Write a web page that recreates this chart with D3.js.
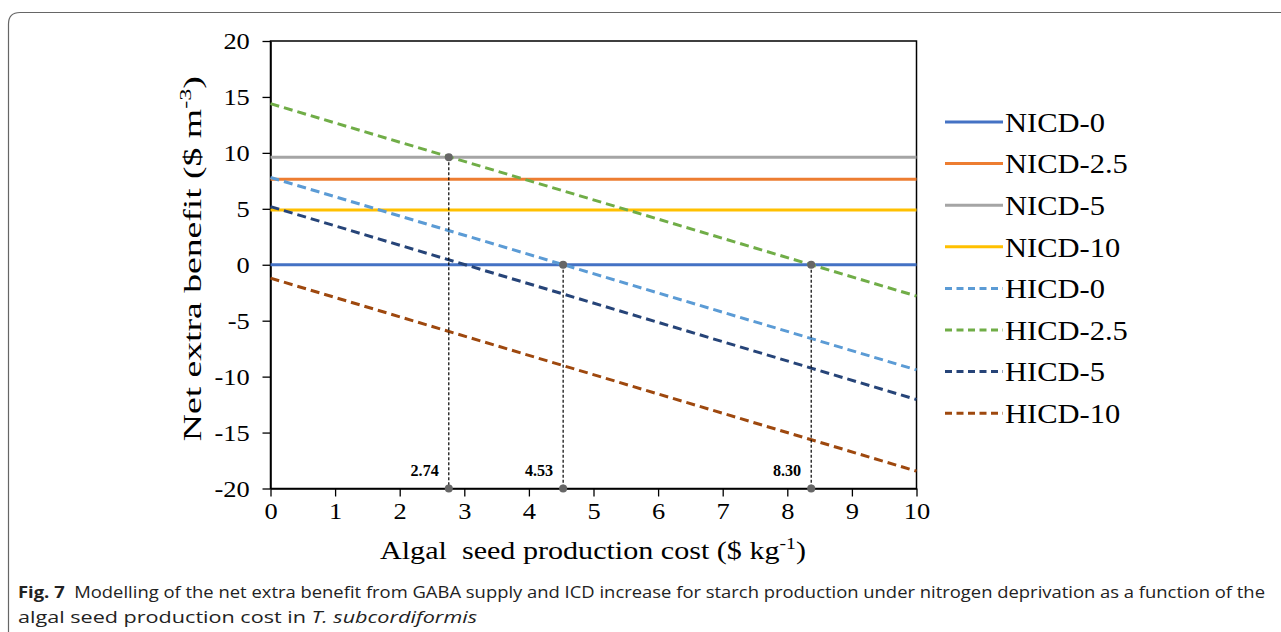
<!DOCTYPE html>
<html>
<head>
<meta charset="utf-8">
<script src="https://cdn.jsdelivr.net/npm/d3@7"></script>
<style>
  body { margin: 0; background: #fff; }
  svg { display: block; }
</style>
</head>
<body>
<svg id="chart" width="1281" height="632"></svg>
<script>
// series values read at x = 0 and x = 10
var seriesNames = ["NICD-0", "NICD-2.5", "NICD-5", "NICD-10", "HICD-0", "HICD-2.5", "HICD-5", "HICD-10"];
var xEnds = [0, 10];
var startValues = [0, 7.65, 9.6, 4.9, 7.8, 14.4, 5.2, -1.2];
var endValues = [0, 7.65, 9.6, 4.9, -9.4, -2.8, -12.05, -18.45];
var seriesColors = ["#4472c4", "#ed7d31", "#a5a5a5", "#ffc000", "#5b9bd5", "#70ad47", "#264478", "#9e480e"];
var dashedSeries = [false, false, false, false, true, true, true, true];

// break-even points
var breakX = [2.76, 4.53, 8.37];
var breakY = [9.6, 0, 0];
var breakLabels = ["2.74", "4.53", "8.30"];

var xTicks = [0, 1, 2, 3, 4, 5, 6, 7, 8, 9, 10];
var yTicks = [20, 15, 10, 5, 0, -5, -10, -15, -20];

var serif = "'Liberation Serif', 'Times New Roman', serif";
var stretch = "scale(1.15,1)";
var svg = d3.select("#chart");

// outer figure frame
svg.append("path")
    .attr("d", "M8.5,640 L8.5,24 Q8.5,12.5 20,12.5 L1290,12.5")
    .attr("fill", "none")
    .attr("stroke", "#666")
    .attr("stroke-width", 1.2);

var plotLeft = 270.5, plotRight = 916.5, plotTop = 41, plotBottom = 488.5;
var x = d3.scaleLinear().domain([0, 10]).range([plotLeft, plotRight]);
var y = d3.scaleLinear().domain([-20, 20]).range([plotBottom, plotTop]);

// plot frame
svg.append("rect")
    .attr("x", plotLeft).attr("y", plotTop)
    .attr("width", plotRight - plotLeft).attr("height", plotBottom - plotTop)
    .attr("fill", "none").attr("stroke", "#000").attr("stroke-width", 1.5);

var plainFormat = function(d) { return String(d); };  // hyphen minus like the original
var xAxis = svg.append("g")
    .attr("transform", "translate(0," + plotBottom + ")")
    .call(d3.axisBottom(x).tickValues(xTicks).tickSize(8).tickSizeOuter(0).tickFormat(plainFormat));
var yAxis = svg.append("g")
    .attr("transform", "translate(" + plotLeft + ",0)")
    .call(d3.axisLeft(y).tickValues(yTicks).tickSize(8).tickSizeOuter(0).tickFormat(plainFormat));

[xAxis, yAxis].forEach(function(ax) {
    ax.select(".domain").attr("stroke", "#000").attr("stroke-width", 1.5);
    ax.selectAll(".tick line").attr("stroke", "#000").attr("stroke-width", 1.3);
    ax.selectAll(".tick text")
        .attr("fill", "#000")
        .attr("transform", stretch)
        .style("font-family", serif)
        .style("font-size", "23px");
});
xAxis.selectAll(".tick text").attr("y", 11).attr("dy", "0.85em");
yAxis.selectAll(".tick text").attr("x", -18).attr("dy", "0.33em");

// series lines
var line = d3.line()
    .x(function(d) { return x(d[0]); })
    .y(function(d) { return y(d[1]); });

var seriesG = svg.append("g");
seriesNames.forEach(function(name, i) {
    var pts = [[xEnds[0], startValues[i]], [xEnds[1], endValues[i]]];
    seriesG.append("path")
        .datum(pts)
        .attr("d", line)
        .attr("fill", "none")
        .attr("stroke", seriesColors[i])
        .attr("stroke-width", 3)
        .attr("stroke-dasharray", dashedSeries[i] ? "9,5" : null);
});

// break-even markers
var markG = svg.append("g");
breakX.forEach(function(bx, i) {
    markG.append("line")
        .attr("x1", x(bx)).attr("x2", x(bx))
        .attr("y1", y(breakY[i])).attr("y2", y(-20))
        .attr("stroke", "#000")
        .attr("stroke-width", 1.2)
        .attr("stroke-dasharray", "3,2");
    [breakY[i], -20].forEach(function(v) {
        markG.append("circle")
            .attr("cx", x(bx)).attr("cy", y(v)).attr("r", 4)
            .attr("fill", "#666");
    });
    markG.append("text")
        .attr("transform", "translate(" + (x(bx) - 10) + "," + y(-18.9) + ") scale(0.95,1)")
        .attr("text-anchor", "end")
        .style("font-family", serif)
        .style("font-size", "17px")
        .style("font-weight", "bold")
        .text(breakLabels[i]);
});

// axis titles
var yt = svg.append("text")
    .attr("transform", "translate(201," + (y(0) - 6) + ") rotate(-90)")
    .attr("text-anchor", "middle")
    .attr("textLength", 365)
    .attr("lengthAdjust", "spacingAndGlyphs")
    .style("font-family", serif)
    .style("font-size", "25px");
yt.append("tspan").text("Net extra benefit ($ m");
yt.append("tspan").attr("dy", -10).style("font-size", "16px").text("-3");
yt.append("tspan").attr("dy", 10).text(")");

var xt = svg.append("text")
    .attr("x", 593).attr("y", 559)
    .attr("text-anchor", "middle")
    .attr("textLength", 426)
    .attr("lengthAdjust", "spacingAndGlyphs")
    .style("font-family", serif)
    .style("font-size", "26px")
    .attr("xml:space", "preserve");
xt.append("tspan").text("Algal  seed production cost ($ kg");
xt.append("tspan").attr("dy", -10).style("font-size", "17px").text("-1");
xt.append("tspan").attr("dy", 10).text(")");

// legend
var legend = svg.append("g").attr("transform", "translate(945,122)");
seriesNames.forEach(function(name, i) {
    var row = legend.append("g").attr("transform", "translate(0," + (i * 41.6) + ")");
    row.append("line")
        .attr("x1", 0).attr("x2", 58)
        .attr("stroke", seriesColors[i])
        .attr("stroke-width", 3)
        .attr("stroke-dasharray", dashedSeries[i] ? "7,4.5" : null);
    row.append("text")
        .attr("transform", "translate(60,0) scale(1.09,1)")
        .attr("dy", "0.35em")
        .style("font-family", serif)
        .style("font-size", "28px")
        .text(name);
});

// caption
var capFont = "'Open Sans', 'Noto Sans', sans-serif";
var cap1 = svg.append("text")
    .attr("x", 18).attr("y", 598)
    .attr("textLength", 1247)
    .attr("lengthAdjust", "spacingAndGlyphs")
    .style("font-family", capFont)
    .style("font-size", "16.5px")
    .attr("fill", "#222");
cap1.append("tspan").style("font-weight", "bold").text("Fig. 7");
cap1.append("tspan").text("\u00a0 Modelling of the net extra benefit from GABA supply and ICD increase for starch production under nitrogen deprivation as a function of the");

var cap2 = svg.append("text")
    .attr("x", 18).attr("y", 623)
    .attr("textLength", 459)
    .attr("lengthAdjust", "spacingAndGlyphs")
    .style("font-family", capFont)
    .style("font-size", "16.5px")
    .attr("fill", "#222");
cap2.append("tspan").text("algal seed production cost in ");
cap2.append("tspan").style("font-style", "italic").text("T. subcordiformis");
</script>
</body>
</html>
